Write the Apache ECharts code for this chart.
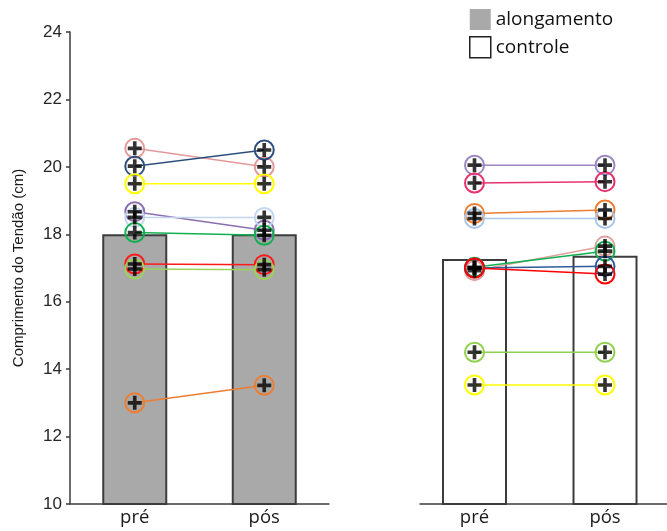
<!DOCTYPE html>
<html>
<head>
<meta charset="utf-8">
<script src="https://cdn.jsdelivr.net/npm/echarts@6/dist/echarts.min.js"></script>
<style>
  html, body { margin: 0; padding: 0; background: #ffffff; }
  #chart { width: 667px; height: 531px; }
</style>
</head>
<body>
<div id="chart"></div>
<script>
// Tendon length before (pré) and after (pós), per participant, in two groups.
const xLabels = ['pré', 'pós'];
const groupNames = ['alongamento', 'controle'];
const yAxisTitle = 'Comprimento do Tendão (cm)';
const yMin = 10, yMax = 24, yStep = 2;

// Group means (bar heights)
const alongamentoMeans = [18.0, 18.0];
const controleMeans = [17.27, 17.36];

// Individual participants
const alongamentoPre = [20.55, 20.02, 19.5, 18.67, 18.5, 18.05, 17.12, 16.97, 13.0];
const alongamentoPos = [20.0, 20.5, 19.5, 18.12, 18.5, 17.97, 17.1, 16.95, 13.52];
const controlePre = [20.05, 19.52, 18.62, 18.47, 16.92, 17.02, 17.0, 17.0, 14.5, 13.53];
const controlePos = [20.05, 19.56, 18.72, 18.47, 17.65, 17.5, 17.05, 16.82, 14.5, 13.53];

// One colour per participant
const alongamentoColors = ['#e39a9a', '#2e4f7e', '#ffff00', '#8a6fb0', '#c4d6ee',
                           '#10b050', '#ff1a1a', '#9bd25a', '#ed7d31'];
const controleColors = ['#9b86c3', '#e8336e', '#ed7d31', '#a9c5e8', '#dfa0a0',
                        '#10b050', '#2e5a9a', '#ff0000', '#92d050', '#ffff00'];

const PLUS = 'path://M5,0H8.5V5H13.5V8.5H8.5V13.5H5V8.5H0V5H5Z';
const AXIS_COLOR = '#3c3c3c';

function participantSeries(pre, pos, colors, gi) {
  return pre.map((v, i) => ({
    type: 'line',
    name: 'p' + gi + '_' + i,
    xAxisIndex: gi, yAxisIndex: gi,
    data: [[1, v], [2, pos[i]]],
    symbol: 'circle',
    symbolSize: 19,
    itemStyle: { color: 'rgba(0,0,0,0)', borderColor: colors[i], borderWidth: 2 },
    lineStyle: { color: colors[i], width: 1.5 },
    z: 3, silent: true, animation: false
  }));
}

function plusSeries(pre, pos, gi) {
  const pts = [];
  pre.forEach((v, i) => { pts.push([1, v]); pts.push([2, pos[i]]); });
  return {
    type: 'scatter',
    name: 'plus' + gi,
    xAxisIndex: gi, yAxisIndex: gi,
    data: pts,
    symbol: PLUS,
    symbolSize: 14,
    itemStyle: { color: '#000000' },
    z: 5, silent: true, animation: false
  };
}

function barSeries(name, means, fill, gi) {
  return {
    type: 'bar',
    name: name,
    xAxisIndex: gi, yAxisIndex: gi,
    data: means.map((v, i) => [i + 1, v]),
    barWidth: 65,
    itemStyle: { color: fill, borderColor: AXIS_COLOR, borderWidth: 2 },
    z: 1, silent: true, animation: false
  };
}

function xAxisFor(gi, min, max) {
  return {
    type: 'value', gridIndex: gi, min: min, max: max,
    axisLine: { show: true, lineStyle: { color: AXIS_COLOR, width: 1.5 } },
    axisTick: { show: false },
    splitLine: { show: false },
    axisLabel: {
      customValues: [1, 2],
      formatter: v => xLabels[Math.round(v) - 1] || '',
      fontSize: 18.5, fontFamily: 'Open Sans', color: '#1a1a1a', margin: 4
    }
  };
}

const chart = echarts.init(document.getElementById('chart'), null, { renderer: 'canvas' });

chart.setOption({
  backgroundColor: '#ffffff',
  animation: false,
  grid: [
    { left: 70, width: 259, top: 32, bottom: 27 },
    { left: 420, right: 0, top: 32, bottom: 27 }
  ],
  xAxis: [
    xAxisFor(0, 0.5, 2.5),
    xAxisFor(1, 0.5824, 2.475)
  ],
  yAxis: [
    {
      type: 'value', gridIndex: 0, min: yMin, max: yMax, interval: yStep,
      axisLine: { show: true, lineStyle: { color: AXIS_COLOR, width: 1.5 } },
      axisTick: { show: true, inside: false, length: 4, lineStyle: { color: AXIS_COLOR, width: 1.5 } },
      splitLine: { show: false },
      axisLabel: { fontSize: 17, fontFamily: 'Liberation Sans', color: '#262626', margin: 8 },
      name: yAxisTitle,
      nameLocation: 'middle',
      nameGap: 44,
      nameTextStyle: { fontSize: 15, fontFamily: 'Liberation Sans', color: '#1a1a1a' }
    },
    { type: 'value', gridIndex: 1, min: yMin, max: yMax, show: false }
  ],
  legend: {
    orient: 'vertical',
    left: 469, top: 9,
    padding: 0,
    itemWidth: 21, itemHeight: 21, itemGap: 6,
    icon: 'rect',
    selectedMode: false,
    textStyle: { fontSize: 19, fontFamily: 'Open Sans', color: '#111111' },
    data: [
      { name: groupNames[0], itemStyle: { borderWidth: 0 } },
      { name: groupNames[1], itemStyle: { borderColor: '#222222', borderWidth: 1.5 } }
    ]
  },
  series: [
    barSeries(groupNames[0], alongamentoMeans, '#a9a9a9', 0),
    barSeries(groupNames[1], controleMeans, '#ffffff', 1),
    ...participantSeries(alongamentoPre, alongamentoPos, alongamentoColors, 0),
    ...participantSeries(controlePre, controlePos, controleColors, 1),
    plusSeries(alongamentoPre, alongamentoPos, 0),
    plusSeries(controlePre, controlePos, 1)
  ]
});
</script>
</body>
</html>
